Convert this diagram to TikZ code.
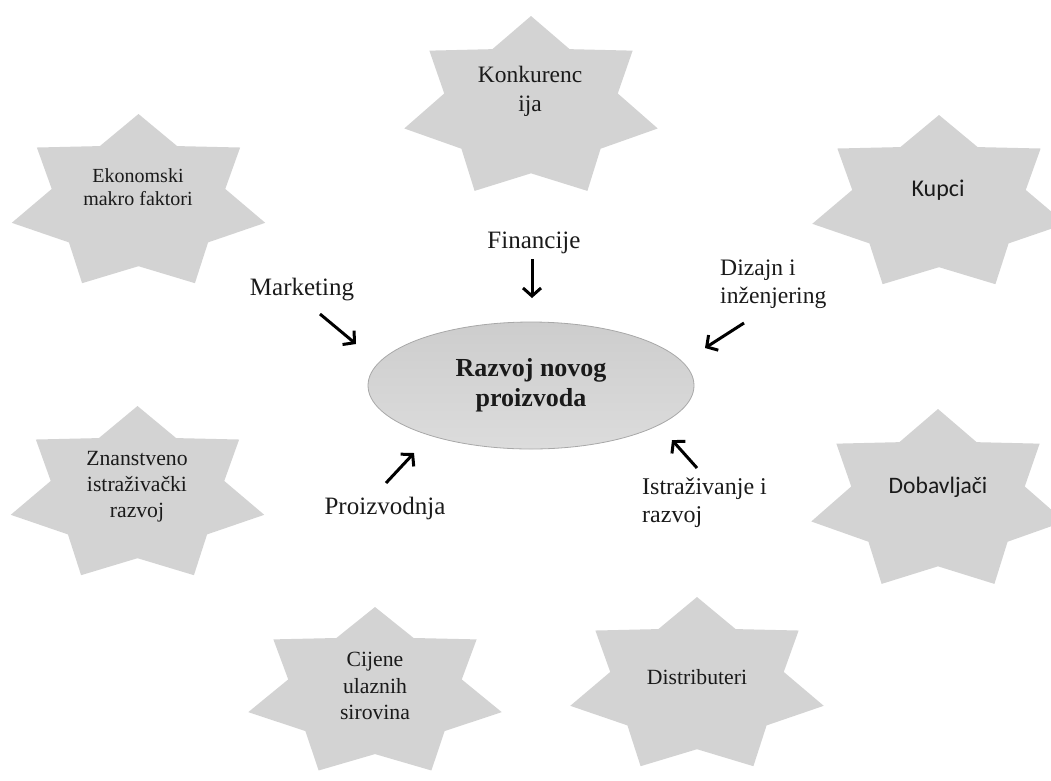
\documentclass[tikz,border=0pt]{standalone}
\usepackage{fontspec}
\setmainfont{Liberation Serif}
\newfontfamily\calibrifont{Carlito}
\usetikzlibrary{arrows.meta,shapes.geometric}
\definecolor{starfill}{HTML}{D3D3D3}
\definecolor{elltop}{HTML}{CDCDCD}
\definecolor{ellbot}{HTML}{DCDCDC}
\definecolor{ellborder}{HTML}{A8A8A8}
\definecolor{txt}{HTML}{1A1A1A}
\newcommand\sevenstar[3]{%
  \fill[starfill] plot[samples at={0,...,13}, variable=\k]
    ({#1+(mod(\k,2)==0 ? 130 : 89)*cos(90+\k*180/7)},
     {#2-(mod(\k,2)==0 ? 1 : 0.71)*#3*sin(90+\k*180/7)}) -- cycle;}
\begin{document}
\begin{tikzpicture}[x=1pt,y=-1pt,
  startext/.style={align=center,text=txt,inner sep=0pt},
  lbl/.style={text=txt,inner sep=0pt,font=\fontsize{25}{28}\selectfont},
  arr/.style={line width=3pt,-{Straight Barb[length=8pt,width=18pt,line width=3pt]}}]
\useasboundingbox (0,0) rectangle (1051,780);
% stars
\sevenstar{531}{108}{92}
\sevenstar{138.5}{203}{89}
\sevenstar{939}{204}{89}
\sevenstar{137.5}{495}{89}
\sevenstar{938}{501}{92}
\sevenstar{375}{693}{86}
\sevenstar{697}{686}{89}
\node[startext,font=\fontsize{23.5}{29}\selectfont] (konk) at (530,91) {Konkurenc\\ija};
\node[startext,font=\fontsize{20}{23}\selectfont] (ekon) at (138,187) {Ekonomski\\makro faktori};
\node[startext,font=\calibrifont\fontsize{24}{28}\selectfont] (kupci) at (938,190) {Kupci};
\node[startext,font=\fontsize{21.7}{26}\selectfont] (znan) at (137,487) {Znanstveno\\istraživački\\razvoj};
\node[startext,font=\calibrifont\fontsize{23.6}{28}\selectfont] (dobav) at (938,487) {Dobavljači};
\node[startext,font=\fontsize{21.7}{26.5}\selectfont] (cij) at (375,686) {Cijene\\ulaznih\\sirovina};
\node[startext,font=\fontsize{21.7}{26}\selectfont] (distr) at (697,677) {Distributeri};
% central ellipse
\node[ellipse,draw=ellborder,line width=0.8pt,top color=elltop,bottom color=ellbot,
  minimum width=326pt,minimum height=127pt,align=center,text=txt,
  font=\bfseries\fontsize{26}{30}\selectfont] (razvoj) at (531,385.5) {Razvoj novog\\proizvoda};
% labels
\node[lbl] (mark) at (302,290) {Marketing};
\node[lbl] (fin) at (534,243) {Financije};
\node[lbl,anchor=west,align=left,font=\fontsize{23.6}{28}\selectfont] (diz) at (720,284) {Dizajn i\\inženjering};
\node[lbl] (proiz) at (385,508) {Proizvodnja};
\node[lbl,anchor=west,align=left,font=\fontsize{24}{28}\selectfont] (istr) at (642,503) {Istraživanje i\\razvoj};
% arrow end points
\coordinate (m1) at (320,314); \coordinate (m2) at (356,344);
\coordinate (f1) at (532,259); \coordinate (f2) at (532,298);
\coordinate (d1) at (744,323); \coordinate (d2) at (705,348);
\coordinate (p1) at (386,483); \coordinate (p2) at (414,453);
\coordinate (i1) at (697,468); \coordinate (i2) at (672,440);
\draw[arr] (m1) -- (m2);
\draw[arr] (f1) -- (f2);
\draw[arr] (d1) -- (d2);
\draw[arr] (p1) -- (p2);
\draw[arr] (i1) -- (i2);
\end{tikzpicture}
\end{document}
